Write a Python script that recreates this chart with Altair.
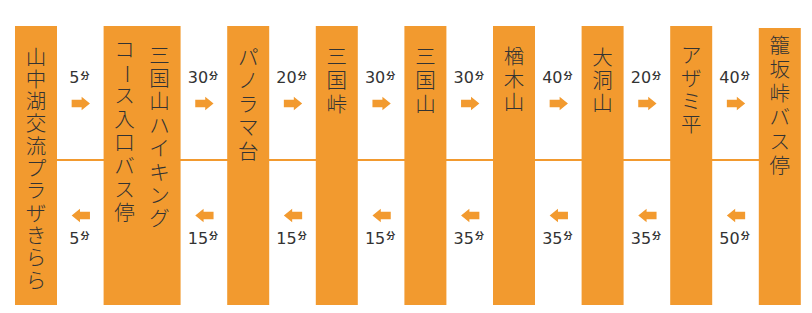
import altair as alt
import pandas as pd

# ---- data ----
station_lines = [
    ["山中湖交流プラザきらら"],
    ["三国山ハイキング", "コース入口バス停"],
    ["パノラマ台"],
    ["三国峠"],
    ["三国山"],
    ["楢木山"],
    ["大洞山"],
    ["アザミ平"],
    ["籠坂峠バス停"],
]
time_forward = [5, 30, 20, 30, 30, 40, 20, 40]   # minutes, left -> right
time_back = [5, 15, 15, 15, 35, 35, 35, 50]      # minutes, right -> left
unit = "分"

# ---- layout (page pixel units) ----
ORANGE = "#F29A2F"
INK = "#333333"
X0, GAP, COL_W, COL_EXTRA = 15, 46.6, 42, 35
BAR_TOP, BAR_BOTTOM = 26, 305
LINE_Y = 160
TOP_TEXT_Y, TOP_ARROW_Y = 78, 103.5
BOT_ARROW_Y, BOT_TEXT_Y = 215.5, 238.5
text_start = [57, 55, 57, 56, 56, 56, 57.5, 55, 45.5]
text_pitch = [22.3, 23.4, 23.5, 24.0, 24.0, 23.0, 23.0, 23.3, 24.0]
col2_start_shift = -6  # second column (left) starts a bit higher

bars = []
x = X0
for i, lines in enumerate(station_lines):
    w = COL_W + COL_EXTRA * (len(lines) - 1)
    bars.append({"i": i, "x1": x, "x2": x + w, "y1": BAR_TOP + (2 if i == len(station_lines) - 1 else 0), "y2": BAR_BOTTOM})
    x += w + GAP
bars_df = pd.DataFrame(bars)

chars = []
for b, lines in zip(bars, station_lines):
    i = b["i"]
    for k, line in enumerate(lines):
        cx = b["x2"] - COL_W / 2 - COL_EXTRA * k
        y0 = text_start[i] + (col2_start_shift if k > 0 else 0)
        for j, ch in enumerate(line):
            chars.append({"ch": ch, "x": cx, "y": y0 + j * text_pitch[i] + 1.5,
                          "angle": 90 if ch == "ー" else 0})
chars_df = pd.DataFrame(chars)

DIGIT_W, KANJI_W = 10.2, 8.0
labels = []
arrows = []
for g in range(len(time_forward)):
    gx = (bars[g]["x2"] + bars[g + 1]["x1"]) / 2
    for t, ty, ay, direction in [(time_forward[g], TOP_TEXT_Y, TOP_ARROW_Y, "r"),
                                  (time_back[g], BOT_TEXT_Y, BOT_ARROW_Y, "l")]:
        s = str(t)
        total = len(s) * DIGIT_W + 1 + KANJI_W
        start = gx - 1.5 - total / 2
        labels.append({"num": s, "unit": unit, "xn": start + len(s) * DIGIT_W,
                       "xu": start + len(s) * DIGIT_W + 1, "y": ty})
        arrows.append({"x": gx + 0.5, "y": ay, "dir": direction})
labels_df = pd.DataFrame(labels)
arrows_df = pd.DataFrame(arrows)

line_df = pd.DataFrame([{"x1": bars[0]["x1"] + 20, "x2": bars[-1]["x1"] + 20, "y": LINE_Y}])

xs = alt.Scale(domain=[8, 804], nice=False, zero=False)
ys = alt.Scale(domain=[8, 305], nice=False, zero=False, reverse=True)

hline = alt.Chart(line_df).mark_rule(color=ORANGE, strokeWidth=2).encode(
    x=alt.X("x1:Q", scale=xs, axis=None), x2="x2:Q",
    y=alt.Y("y:Q", scale=ys, axis=None))

bar_layer = alt.Chart(bars_df).mark_rect(color=ORANGE).encode(
    x=alt.X("x1:Q", scale=xs, axis=None), x2="x2:Q",
    y=alt.Y("y1:Q", scale=ys, axis=None), y2="y2:Q")

name_layer = alt.Chart(chars_df).mark_text(
    font="Noto Sans CJK JP", fontSize=20.5, fontWeight=300, color=INK, align="center", baseline="middle"
).encode(
    x=alt.X("x:Q", scale=xs, axis=None), y=alt.Y("y:Q", scale=ys, axis=None),
    text="ch:N", angle=alt.Angle("angle:Q", scale=None))

num_layer = alt.Chart(labels_df).mark_text(
    font="DejaVu Sans", fontSize=16, fontWeight=500, color=INK, align="right", baseline="middle"
).encode(
    x=alt.X("xn:Q", scale=xs, axis=None), y=alt.Y("y:Q", scale=ys, axis=None), text="num:N")

unit_layer = alt.Chart(labels_df).mark_text(
    font="Noto Sans CJK JP", fontSize=9, fontWeight="bold", color=INK, align="left", baseline="middle", dy=-2.5
).encode(
    x=alt.X("xu:Q", scale=xs, axis=None), y=alt.Y("y:Q", scale=ys, axis=None), text="unit:N")

RIGHT = "M-1,-0.4L0.09,-0.4L0.09,-0.73L1,0L0.09,0.73L0.09,0.4L-1,0.4Z"
LEFT = "M1,-0.4L-0.09,-0.4L-0.09,-0.73L-1,0L-0.09,0.73L-0.09,0.4L1,0.4Z"
arrow_layer = alt.Chart(arrows_df).mark_point(filled=True, opacity=1, size=335, color=ORANGE).encode(
    x=alt.X("x:Q", scale=xs, axis=None), y=alt.Y("y:Q", scale=ys, axis=None),
    shape=alt.Shape("dir:N", scale=alt.Scale(domain=["r", "l"], range=[RIGHT, LEFT]), legend=None))

chart = alt.layer(hline, bar_layer, name_layer, num_layer, unit_layer, arrow_layer).properties(
    width=796, height=297, padding=0, background="white",
    autosize=alt.AutoSizeParams(type="fit", contains="padding"),
).configure_view(stroke=None)

chart.save("out.html", embed_options={"renderer": "svg", "actions": False})
